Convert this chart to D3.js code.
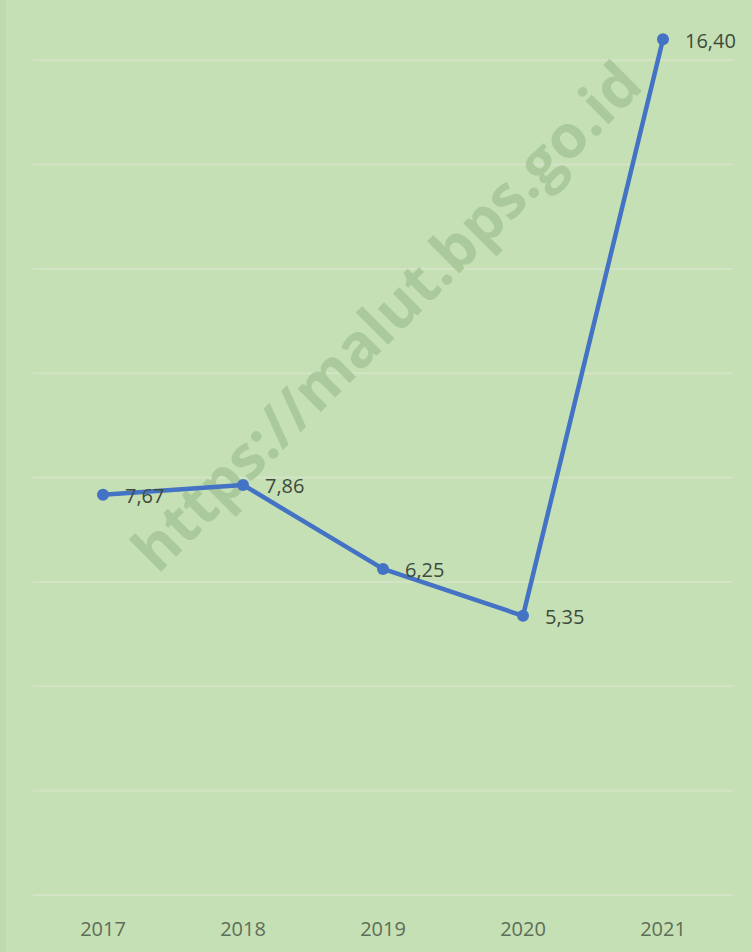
<!DOCTYPE html>
<html>
<head>
<meta charset="utf-8">
<script src="https://cdn.jsdelivr.net/npm/d3@7"></script>
<style>
  body { margin: 0; background: #c5e0b4; }
  #chart { width: 752px; height: 952px; }
</style>
</head>
<body>
<div id="chart"></div>
<script>
const years = ["2017", "2018", "2019", "2020", "2021"];
const values = [7.67, 7.86, 6.25, 5.35, 16.40];
const gridTicks = [0, 2, 4, 6, 8, 10, 12, 14, 16];

const width = 752, height = 952;
const margin = { top: 8, right: 19, bottom: 57, left: 33 };

const svg = d3.select("#chart").append("svg")
    .attr("width", width)
    .attr("height", height);

// background
svg.append("rect")
    .attr("width", width)
    .attr("height", height)
    .attr("fill", "#c5e0b4");

// faint left edge strip
svg.append("rect")
    .attr("x", 0).attr("y", 0)
    .attr("width", 6).attr("height", height)
    .attr("fill", "#bfdbad");

const x = d3.scaleBand()
    .domain(years)
    .range([margin.left, width - margin.right]);

const y = d3.scaleLinear()
    .domain([0, 17])
    .range([height - margin.bottom, margin.top]);

// gridlines
svg.append("g")
    .selectAll("line")
    .data(gridTicks)
    .enter()
    .append("line")
        .attr("x1", x.range()[0])
        .attr("x2", x.range()[1])
        .attr("y1", d => y(d))
        .attr("y2", d => y(d))
        .attr("stroke", "#d3e4c6")
        .attr("stroke-width", 2);

// x axis labels
const xAxis = svg.append("g")
    .attr("transform", `translate(0, ${height - margin.bottom})`)
    .call(d3.axisBottom(x).tickSize(0).tickPadding(27));
xAxis.select(".domain").remove();
xAxis.selectAll("text")
    .attr("font-family", "'Open Sans', sans-serif")
    .attr("font-size", 20)
    .attr("fill", "#5e6e58");

// watermark
svg.append("text")
    .attr("transform", "translate(390, 320) rotate(-45)")
    .attr("text-anchor", "middle")
    .attr("dominant-baseline", "middle")
    .attr("font-family", "'Open Sans', sans-serif")
    .attr("font-weight", "bold")
    .attr("font-size", 60)
    .attr("fill", "#a6c698")
    .attr("fill-opacity", 0.85)
    .text("https://malut.bps.go.id");

const cx = (d, i) => x(years[i]) + x.bandwidth() / 2;

// line
const line = d3.line()
    .x((d, i) => cx(d, i))
    .y(d => y(d));

svg.append("path")
    .datum(values)
    .attr("fill", "none")
    .attr("stroke", "#4472c4")
    .attr("stroke-width", 4.5)
    .attr("stroke-linejoin", "round")
    .attr("d", line);

// dots
svg.append("g")
    .selectAll("circle")
    .data(values)
    .enter()
    .append("circle")
        .attr("cx", (d, i) => cx(d, i))
        .attr("cy", d => y(d))
        .attr("r", 6)
        .attr("fill", "#4472c4");

// value labels
svg.append("g")
    .selectAll("text")
    .data(values)
    .enter()
    .append("text")
        .attr("x", (d, i) => cx(d, i) + 22)
        .attr("y", d => y(d) + 3)
        .attr("dominant-baseline", "middle")
        .attr("font-family", "'Open Sans', sans-serif")
        .attr("font-size", 20)
        .attr("fill", "#404a3c")
        .text(d => d.toFixed(2).replace(".", ","));
</script>
</body>
</html>
